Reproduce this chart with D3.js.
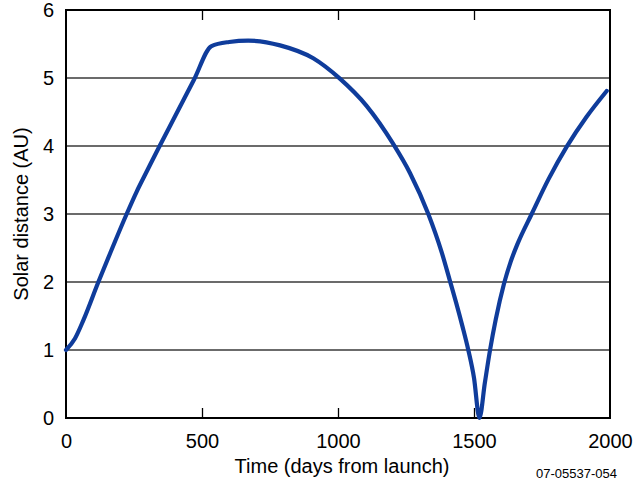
<!DOCTYPE html>
<html>
<head>
<meta charset="utf-8">
<script src="https://cdn.jsdelivr.net/npm/d3@7"></script>
<style>
  html, body { margin: 0; padding: 0; background: #fff; }
  svg { display: block; font-family: "Liberation Sans", Arial, Helvetica, sans-serif; }
</style>
</head>
<body>
<svg id="chart" width="642" height="481"></svg>
<script>
// Data
const days = [0, 33, 64, 119, 162, 223, 260, 300, 339, 400, 470, 535, 600, 670, 787, 909, 1007, 1105, 1203, 1265, 1332, 1381, 1412, 1434, 1458, 1479, 1500, 1520, 1540, 1559, 1580, 1610, 1635, 1660, 1712, 1775, 1841, 1914, 1988];
const distanceAU = [1.0, 1.17, 1.44, 2.0, 2.42, 3.0, 3.33, 3.65, 3.96, 4.43, 4.97, 5.47, 5.53, 5.55, 5.48, 5.29, 4.99, 4.59, 4.03, 3.6, 3.0, 2.44, 2.01, 1.70, 1.34, 1.0, 0.59, 0.0, 0.52, 1.0, 1.45, 1.97, 2.3, 2.56, 3.0, 3.52, 3.99, 4.43, 4.81];
const xTicks = [0, 500, 1000, 1500, 2000];
const yTicks = [0, 1, 2, 3, 4, 5, 6];
const xTitle = "Time (days from launch)";
const yTitle = "Solar distance (AU)";
const footnote = "07-05537-054";

const svg = d3.select("#chart");
const mL = 66, mR = 610, mT = 10, mB = 418;

const x = d3.scaleLinear().domain([0, 2000]).range([mL, mR]);
const y = d3.scaleLinear().domain([0, 6]).range([mB, mT]);

// gridlines
svg.append("g")
  .selectAll("line")
  .data(yTicks.filter(d => d > 0 && d < 6))
  .join("line")
  .attr("x1", mL).attr("x2", mR)
  .attr("y1", d => y(d)).attr("y2", d => y(d))
  .attr("stroke", "#3a3a3a").attr("stroke-width", 1.3);

// bottom axis (ticks inward)
const xAxisB = svg.append("g")
  .attr("transform", `translate(0,${mB})`)
  .call(d3.axisBottom(x).tickValues(xTicks).tickSize(-10).tickPadding(16).tickFormat(d3.format("d")));
xAxisB.select(".domain").remove();
xAxisB.selectAll(".tick line").attr("stroke", "#000").attr("stroke-width", 1.3)
  .attr("opacity", d => (d === 0 || d === 2000) ? 0 : 1);
xAxisB.selectAll(".tick text").attr("font-size", 20).attr("fill", "#000")
  .attr("font-family", "Liberation Sans, Arial, sans-serif");

// top axis ticks (inward)
const xAxisT = svg.append("g")
  .attr("transform", `translate(0,${mT})`)
  .call(d3.axisTop(x).tickValues(xTicks.slice(1, -1)).tickSize(-10).tickFormat(""));
xAxisT.select(".domain").remove();
xAxisT.selectAll(".tick line").attr("stroke", "#000").attr("stroke-width", 1.3);

// left axis labels
const yAxis = svg.append("g")
  .attr("transform", `translate(${mL},0)`)
  .call(d3.axisLeft(y).tickValues(yTicks).tickSize(0).tickPadding(12).tickFormat(d3.format("d")));
yAxis.select(".domain").remove();
yAxis.selectAll(".tick text").attr("font-size", 20).attr("fill", "#000")
  .attr("font-family", "Liberation Sans, Arial, sans-serif");

// frame
svg.append("rect")
  .attr("x", mL).attr("y", mT)
  .attr("width", mR - mL).attr("height", mB - mT)
  .attr("fill", "none").attr("stroke", "#000").attr("stroke-width", 2);

// curve
const pts = days.map((d, i) => [d, distanceAU[i]]);
const line = d3.line().x(d => x(d[0])).y(d => y(d[1])).curve(d3.curveMonotoneX);
svg.append("path")
  .attr("d", line(pts))
  .attr("fill", "none")
  .attr("stroke", "#0f3c9b")
  .attr("stroke-width", 4.2)
  .attr("stroke-linejoin", "round")
  .attr("stroke-linecap", "round");

// titles
svg.append("text")
  .attr("x", (mL + mR) / 2 + 4).attr("y", 473)
  .attr("text-anchor", "middle").attr("font-size", 20).attr("fill", "#000")
  .text(xTitle);

svg.append("text")
  .attr("transform", `translate(28,${(mT + mB) / 2}) rotate(-90)`)
  .attr("text-anchor", "middle").attr("font-size", 20).attr("fill", "#000")
  .text(yTitle);

svg.append("text")
  .attr("x", 617).attr("y", 478)
  .attr("text-anchor", "end").attr("font-size", 13).attr("fill", "#000")
  .text(footnote);
</script>
</body>
</html>
